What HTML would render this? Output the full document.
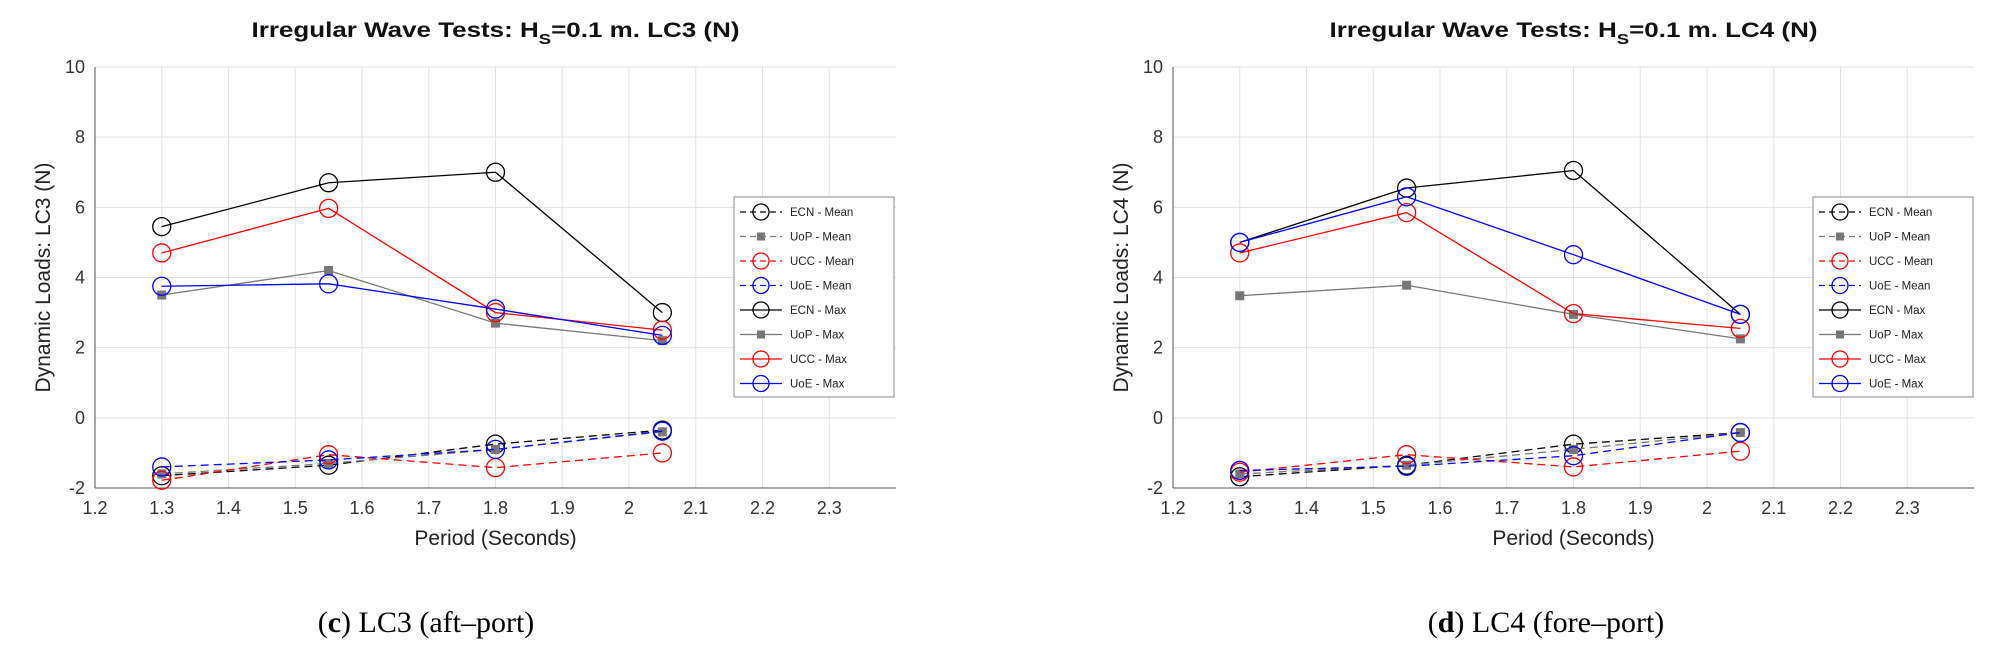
<!DOCTYPE html>
<html><head><meta charset="utf-8">
<style>
body{margin:0;background:#fff;}
svg{display:block;}
text{font-family:"Liberation Sans",Arial,sans-serif;}
.cap{font-family:"Liberation Serif",serif;font-size:30px;}
</style></head>
<body>
<svg id="chart" width="1995" height="657" viewBox="0 0 1995 657" xmlns="http://www.w3.org/2000/svg">
<text class="cap" x="426" y="632" text-anchor="middle">(<tspan font-weight="bold">c</tspan>) LC3 (aft–port)</text>
<text class="cap" x="1546" y="632" text-anchor="middle">(<tspan font-weight="bold">d</tspan>) LC4 (fore–port)</text>
</svg>
<script>
const periods = [1.3, 1.55, 1.8, 2.05];
const xTicks = [1.2,1.3,1.4,1.5,1.6,1.7,1.8,1.9,2,2.1,2.2,2.3];
const yTicks = [-2,0,2,4,6,8,10];
const seriesNames = ["ECN - Mean","UoP - Mean","UCC - Mean","UoE - Mean","ECN - Max","UoP - Max","UCC - Max","UoE - Max"];
const lc3EcnMean = [-1.65,-1.35,-0.75,-0.35];
const lc3UopMean = [-1.6,-1.3,-0.9,-0.4];
const lc3UccMean = [-1.78,-1.05,-1.42,-1.0];
const lc3UoeMean = [-1.4,-1.2,-0.9,-0.38];
const lc3EcnMax = [5.45,6.7,7.0,3.0];
const lc3UopMax = [3.5,4.2,2.7,2.2];
const lc3UccMax = [4.7,5.97,3.0,2.5];
const lc3UoeMax = [3.75,3.82,3.1,2.35];
const lc4EcnMean = [-1.68,-1.35,-0.75,-0.42];
const lc4UopMean = [-1.6,-1.35,-0.9,-0.42];
const lc4UccMean = [-1.55,-1.05,-1.4,-0.95];
const lc4UoeMean = [-1.5,-1.38,-1.08,-0.42];
const lc4EcnMax = [5.0,6.55,7.05,2.95];
const lc4UopMax = [3.48,3.78,2.95,2.25];
const lc4UccMax = [4.7,5.85,2.97,2.55];
const lc4UoeMax = [5.0,6.3,4.65,2.95];

const NS="http://www.w3.org/2000/svg";
const svg=document.getElementById('chart');
function mk(tag,attrs,parent){const e=document.createElementNS(NS,tag);for(const k in attrs)e.setAttribute(k,attrs[k]);(parent||svg).appendChild(e);return e;}
const styles=[
 {c:"#000",dash:"8,5",m:"circle"},{c:"#777",dash:"8,5",m:"square"},{c:"#f00",dash:"8,5",m:"circle"},{c:"#00f",dash:"8,5",m:"circle"},
 {c:"#000",dash:"",m:"circle"},{c:"#777",dash:"",m:"square"},{c:"#f00",dash:"",m:"circle"},{c:"#00f",dash:"",m:"circle"}];

function drawChart(left,label,title,data,legX,key){
  const L=left,R=left+801,T=67,B=488;
  const xs=v=>L+(v-1.2)/1.2*(R-L);
  const ys=v=>B-(v+2)/12*(B-T);
  const g=mk('g',{});
  
  
  for(const t of xTicks){
    const gl=mk('line',{x1:xs(t),x2:xs(t),y1:T,y2:B,stroke:"#e3e3e3","stroke-width":1},g);
    
    
    const tx=mk('text',{x:xs(t),y:514,"font-size":18,fill:"#333","text-anchor":"middle"},g);
    tx.textContent=String(t);
    
    
  }
  for(const t of yTicks){
    const gl=mk('line',{x1:L,x2:R,y1:ys(t),y2:ys(t),stroke:"#e3e3e3","stroke-width":1},g);
    
    
    const tx=mk('text',{x:L-10,y:ys(t)+6,"font-size":18,fill:"#333","text-anchor":"end"},g);
    tx.textContent=String(t);
    
    
  }
  const ax=mk('path',{d:`M${L},${T}V${B}M${L},${B}H${R}`,stroke:"#555",fill:"none","stroke-width":1},g);
  
  
  data.forEach((vals,i)=>{
    const s=styles[i];
    const pts=periods.map((p,j)=>xs(p)+","+ys(vals[j])).join(" ");
    const pl=mk('polyline',{points:pts,fill:"none",stroke:s.c,"stroke-width":1.3,"stroke-dasharray":s.dash},g);
    
    
    periods.forEach((p,j)=>{
      let m;
      if(s.m==="circle") m=mk('circle',{cx:xs(p),cy:ys(vals[j]),r:9,fill:"none",stroke:s.c,"stroke-width":1.3},g);
      else m=mk('rect',{x:xs(p)-4.5,y:ys(vals[j])-4.5,width:9,height:9,fill:s.c},g);
      
      
    });
  });
  const tt=mk('text',{x:(L+R)/2,y:37,"font-size":21,"font-weight":"bold","text-anchor":"middle",fill:"#111",textLength:488,lengthAdjust:"spacingAndGlyphs"},g);
  tt.innerHTML=`Irregular Wave Tests: H<tspan font-size="15" dy="7">S</tspan><tspan dy="-7">=0.1 m. ${title} (N)</tspan>`;
  
  
  const xl=mk('text',{x:(L+R)/2,y:545,"font-size":21,"text-anchor":"middle",fill:"#222"},g);
  xl.textContent="Period (Seconds)";
  
  
  const yl=mk('text',{x:0,y:0,"font-size":21,"text-anchor":"middle",fill:"#222",transform:`translate(${L-45},${(T+B)/2}) rotate(-90)`},g);
  yl.textContent=label;
  
  
  const lg=mk('g',{},g);
  
  
  mk('rect',{x:legX,y:197,width:160,height:200,fill:"#fff",stroke:"#888","stroke-width":1},lg);
  seriesNames.forEach((n,i)=>{
    const s=styles[i];const y=212+i*24.5;
    const e=mk('g',{},lg);
    
    
    mk('line',{x1:legX+6,x2:legX+48,y1:y,y2:y,stroke:s.c,"stroke-width":1.3,"stroke-dasharray":s.dash?"6,4":""},e);
    if(s.m==="circle") mk('circle',{cx:legX+27,cy:y,r:8,fill:"none",stroke:s.c,"stroke-width":1.3},e);
    else mk('rect',{x:legX+23,y:y-4,width:8,height:8,fill:s.c},e);
    const t=mk('text',{x:legX+56,y:y+4,"font-size":11.5,fill:"#222"},e);
    t.textContent=n;
  });
}
drawChart(95,"Dynamic Loads: LC3 (N)","LC3",[lc3EcnMean,lc3UopMean,lc3UccMean,lc3UoeMean,lc3EcnMax,lc3UopMax,lc3UccMax,lc3UoeMax],734,"lc3");
drawChart(1173,"Dynamic Loads: LC4 (N)","LC4",[lc4EcnMean,lc4UopMean,lc4UccMean,lc4UoeMean,lc4EcnMax,lc4UopMax,lc4UccMax,lc4UoeMax],1813,"lc4");
</script>
</body></html>
